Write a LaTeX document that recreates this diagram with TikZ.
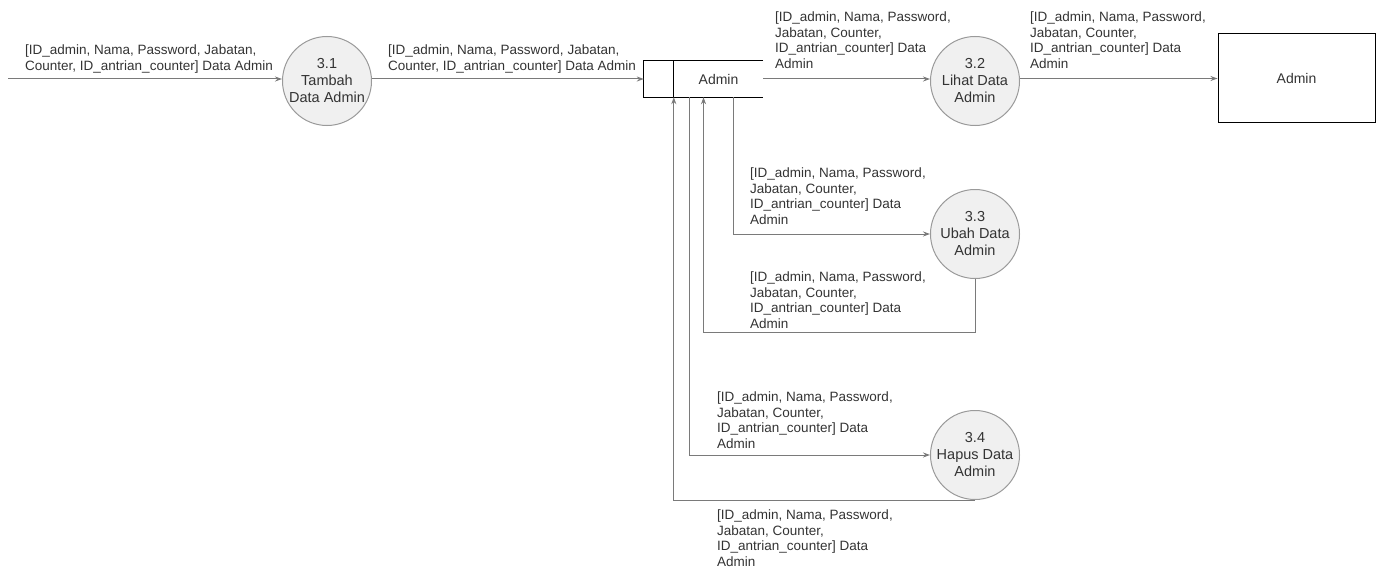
\documentclass[tikz,border=0pt]{standalone}
\usepackage{fontspec}
\setmainfont{Liberation Sans}
\usetikzlibrary{arrows.meta}

\definecolor{ink}{HTML}{333333}
\definecolor{flowline}{HTML}{7A7A7A}
\definecolor{procline}{HTML}{9A9A9A}
\definecolor{procfill}{HTML}{F0F0F0}

\newcommand{\datatwo}{[ID\_admin, Nama, Password, Jabatan,\\Counter, ID\_antrian\_counter] Data Admin}
\newcommand{\datafour}{[ID\_admin, Nama, Password,\\Jabatan, Counter,\\ID\_antrian\_counter] Data\\Admin}

\begin{document}
\begin{tikzpicture}[x=1pt, y=-1pt,
    proc/.style={draw=procline, fill=procfill, circle, line width=1pt, minimum size=89pt, inner sep=0pt,
      align=center, text=ink, font=\fontsize{14.5}{17}\selectfont},
    store/.style={minimum width=119pt, minimum height=36pt, inner sep=0pt, text=ink,
      font=\fontsize{14}{17}\selectfont},
    ent/.style={draw=black, line width=1pt, minimum width=157pt, minimum height=89pt, text=ink,
      font=\fontsize{14}{17}\selectfont},
    lbl/.style={anchor=north west, inner sep=0pt, align=left, text=ink,
      font=\fontsize{13.5}{15.5}\selectfont},
    flow/.style={draw=flowline, line width=1pt, -{Stealth[length=7pt,width=5pt]}}
  ]
  \useasboundingbox (0,0) rectangle (1380,567);

  % Processes
  \node[proc] (p31) at (327,81) {3.1\\Tambah\\Data Admin};
  \node[proc] (p32) at (975,81) {3.2\\Lihat Data\\Admin};
  \node[proc] (p33) at (975,234) {3.3\\Ubah Data\\Admin};
  \node[proc] (p34) at (975,455) {3.4\\Hapus Data\\Admin};

  % Data store and external entity
  \node[store] (store) at (703.5,79) {\hspace*{30pt}Admin};
  \draw[line width=1pt] (store.north east) -- (store.north west) -- (store.south west) -- (store.south east);
  \draw[line width=1pt] ([xshift=30pt]store.north west) -- ([xshift=30pt]store.south west);
  \node[ent] (ext) at (1296.5,78.5) {Admin};

  \coordinate (src) at (8,79);

  % Flows
  \draw[flow] (src) -- (src -| p31.west);
  \draw[flow] (p31.east |- store.west) -- (store.west);
  \draw[flow] (store.east) -- (store.east -| p32.west);
  \draw[flow] (p32.east |- ext.west) -- (ext.west);
  \draw[flow] ([xshift=29.5pt]store.south) |- (p33);
  \draw[flow] (p33.south) -- ++(0,53) -| (store.south);
  \draw[flow] ([xshift=-14.5pt]store.south) |- (p34);
  \draw[flow] (p34.south) -| ([xshift=30pt]store.south west);

  % Flow labels
  \node[lbl] (l31a) at (25,45) {\datatwo};
  \node[lbl] (l31b) at (388,45) {\datatwo};
  \foreach \x/\y/\n in {775/12/l32a, 1030/12/l32b, 750/168/l33a, 750/272/l33b, 717/392/l34a, 717/510/l34b} {
    \node[lbl] (\n) at (\x,\y) {\datafour};
  }

\end{tikzpicture}
\end{document}
